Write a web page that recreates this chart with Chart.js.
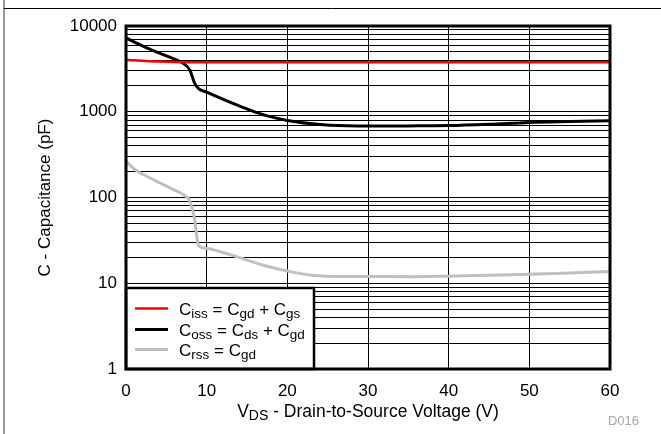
<!DOCTYPE html>
<html>
<head>
<meta charset="utf-8">
<script src="https://cdn.jsdelivr.net/npm/chart.js@4/dist/chart.umd.min.js"></script>
<style>
html, body { margin: 0; padding: 0; background: #fff; }
#wrap { width: 661px; height: 434px; }
</style>
</head>
<body>
<div id="wrap"><canvas id="capChart" width="661" height="434"></canvas></div>
<script>
// values (V, pF)
const issVoltage = [0, 1, 3, 5, 7, 10, 20, 30, 40, 50, 60];
const issCap = [4050, 3980, 3880, 3820, 3790, 3780, 3780, 3780, 3780, 3780, 3780];

const ossVoltage = [0, 1.3, 3, 5, 7, 7.9, 8.5, 9, 10, 12.5, 15, 17.4, 20, 22.8, 25.3, 30, 35, 40, 45, 50, 55, 60];
const ossCap = [7300, 6300, 5350, 4480, 3715, 3080, 2160, 1866, 1690, 1340, 1080, 900, 792, 728, 696, 682, 684, 690, 715, 751, 770, 786];

const rssVoltage = [0, 1.1, 2.5, 4.2, 6, 7.1, 7.9, 8.5, 9, 10, 12, 14, 17, 20, 23, 27, 30, 35, 40, 45, 50, 55, 60];
const rssCap = [264, 212, 178, 148, 122, 108, 91, 56, 27.2, 25.5, 22.8, 20, 16.2, 13.9, 12.4, 12.0, 12.0, 11.9, 12.1, 12.4, 12.7, 13.2, 13.7];

const xTickValues = [0, 10, 20, 30, 40, 50, 60];
const yDecades = [1, 10, 100, 1000, 10000];
const yTickValues = [];
yDecades.slice(0, -1).forEach(d => {
    for (let m = 1; m < 10; m++) yTickValues.push(d * m);
});
yTickValues.push(10000);

const seriesColors = ["#ff0000", "#000000", "#c0c0c0"];
const seriesWidths = [2.5, 3, 3];
const legendLabels = [
    [["C", 0], ["iss", 1], [" = C", 0], ["gd", 1], [" + C", 0], ["gs", 1]],
    [["C", 0], ["oss", 1], [" = C", 0], ["ds", 1], [" + C", 0], ["gd", 1]],
    [["C", 0], ["rss", 1], [" = C", 0], ["gd", 1]]
];
const xTitle = [["V", 0], ["DS", 1], [" - Drain-to-Source Voltage (V)", 0]];
const yTitle = "C - Capacitance (pF)";
const figureId = "D016";

const FONT = "'Liberation Sans', Arial, sans-serif";

function toPoints(xs, ys) {
    return xs.map((x, i) => ({ x: x, y: ys[i] }));
}

function drawRich(ctx, parts, x, y, size, align) {
    const subSize = Math.round(size * 0.8 * 2) / 2;
    const widths = parts.map(([t, sub]) => {
        ctx.font = `${sub ? subSize : size}px ${FONT}`;
        return ctx.measureText(t).width;
    });
    const total = widths.reduce((a, b) => a + b, 0);
    let cx = align === "center" ? x - total / 2 : x;
    ctx.textAlign = "left";
    ctx.textBaseline = "alphabetic";
    parts.forEach(([t, sub], i) => {
        ctx.font = `${sub ? subSize : size}px ${FONT}`;
        ctx.fillText(t, cx, sub ? y + size * 0.18 : y);
        cx += widths[i];
    });
}

const decorations = {
    id: "decorations",
    beforeDraw(chart) {
        const ctx = chart.ctx;
        ctx.save();
        ctx.fillStyle = "#fff";
        ctx.fillRect(0, 0, chart.width, chart.height);
        ctx.strokeStyle = "#9a9a9a";
        ctx.lineWidth = 2;
        ctx.beginPath();
        ctx.moveTo(4, 0);
        ctx.lineTo(4, chart.height);
        ctx.stroke();
        ctx.strokeStyle = "#000";
        ctx.lineWidth = 1;
        ctx.beginPath();
        ctx.moveTo(4, 8.5);
        ctx.lineTo(chart.width, 8.5);
        ctx.stroke();
        ctx.restore();
    },
    afterDatasetsDraw(chart) {
        const { ctx, chartArea: a } = chart;
        ctx.save();

        // legend box
        const boxRight = 314;
        const boxTop = 288;
        ctx.fillStyle = "#fff";
        ctx.fillRect(a.left, boxTop, boxRight - a.left, a.bottom - boxTop);
        ctx.strokeStyle = "#000";
        ctx.lineWidth = 2.5;
        ctx.strokeRect(a.left, boxTop, boxRight - a.left, a.bottom - boxTop);
        const rowY = [308.5, 329.5, 349.5];
        legendLabels.forEach((parts, i) => {
            ctx.strokeStyle = seriesColors[i];
            ctx.lineWidth = seriesWidths[i];
            ctx.beginPath();
            ctx.moveTo(135, rowY[i]);
            ctx.lineTo(168, rowY[i]);
            ctx.stroke();
            ctx.fillStyle = "#000";
            drawRich(ctx, parts, 179, rowY[i] + 6.5, 17, "left");
        });

        // plot frame
        ctx.strokeStyle = "#000";
        ctx.lineWidth = 3;
        ctx.strokeRect(a.left, a.top, a.right - a.left, a.bottom - a.top);
        ctx.restore();
    },
    afterDraw(chart) {
        const { ctx, chartArea: a } = chart;
        ctx.save();
        ctx.fillStyle = "#000";
        drawRich(ctx, xTitle, (a.left + a.right) / 2, 416.5, 17.5, "center");

        ctx.translate(50, (a.top + a.bottom) / 2);
        ctx.rotate(-Math.PI / 2);
        ctx.font = `17px ${FONT}`;
        ctx.textAlign = "center";
        ctx.textBaseline = "alphabetic";
        ctx.fillText(yTitle, 0, 0);
        ctx.restore();

        ctx.save();
        ctx.fillStyle = "#a8a8a8";
        ctx.font = `13px ${FONT}`;
        ctx.textAlign = "right";
        ctx.textBaseline = "alphabetic";
        ctx.fillText(figureId, 639, 425);
        ctx.restore();
    }
};

Chart.defaults.font.family = FONT;
Chart.defaults.font.size = 17;
Chart.defaults.color = "#000";

new Chart(document.getElementById("capChart"), {
    type: "line",
    data: {
        datasets: [
            { label: "Ciss", data: toPoints(issVoltage, issCap) },
            { label: "Coss", data: toPoints(ossVoltage, ossCap) },
            { label: "Crss", data: toPoints(rssVoltage, rssCap) }
        ].map((ds, i) => Object.assign(ds, {
            borderColor: seriesColors[i],
            borderWidth: seriesWidths[i],
            pointRadius: 0,
            fill: false,
            cubicInterpolationMode: "monotone"
        }))
    },
    options: {
        responsive: false,
        animation: false,
        events: [],
        layout: { padding: { top: 26, right: 51, left: 0, bottom: 0 } },
        plugins: {
            legend: { display: false },
            tooltip: { enabled: false }
        },
        scales: {
            x: {
                type: "linear",
                min: 0,
                max: 60,
                afterBuildTicks(scale) {
                    scale.ticks = xTickValues.map(v => ({ value: v }));
                },
                afterFit(scale) { scale.height = 65; },
                ticks: { padding: 12, autoSkip: false, maxRotation: 0 },
                grid: { color: "#000", lineWidth: 1, drawTicks: false },
                border: { display: false }
            },
            y: {
                type: "logarithmic",
                min: 1,
                max: 10000,
                afterBuildTicks(scale) {
                    scale.ticks = yTickValues.map(v => ({ value: v }));
                },
                afterFit(scale) { scale.width = 126; },
                ticks: {
                    padding: 9,
                    autoSkip: false,
                    callback: v => (yDecades.includes(v) ? String(v) : "")
                },
                grid: { color: "#000", lineWidth: 1, drawTicks: false },
                border: { display: false }
            }
        }
    },
    plugins: [decorations]
});
</script>
</body>
</html>
